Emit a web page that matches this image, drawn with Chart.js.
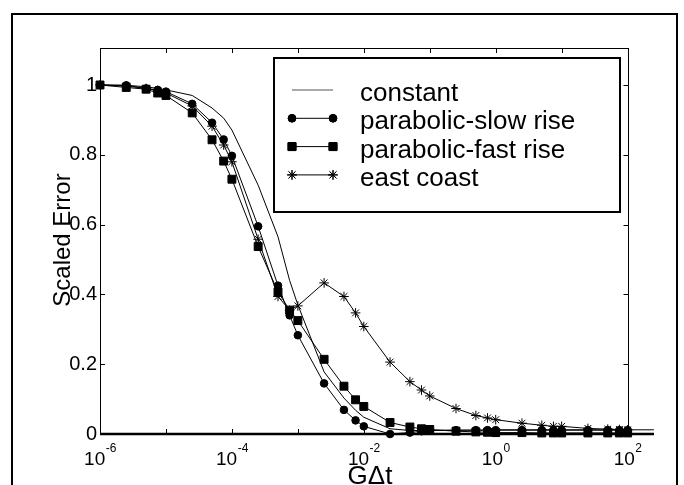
<!DOCTYPE html>
<html><head><meta charset="utf-8">
<script src="https://cdn.jsdelivr.net/npm/chart.js@4/dist/chart.umd.min.js"></script>
<style>html,body{margin:0;padding:0;background:#fff}#wrap{width:684px;height:485px;position:relative;overflow:hidden}</style>
</head><body><div id="wrap"><canvas id="c" width="684" height="485"></canvas></div>
<script>
// ---- data ----
const xValues = [1e-6, 2.5e-6, 5e-6, 7.5e-6, 1e-5, 2.5e-5, 5e-5, 7.5e-5, 1e-4, 2.5e-4, 5e-4, 7.5e-4,
  1e-3, 2.5e-3, 5e-3, 7.5e-3, 1e-2, 2.5e-2, 5e-2, 7.5e-2, 0.1, 0.25, 0.5, 0.75, 1, 2.5, 5, 7.5, 10, 25, 50, 75, 100];
const constantX = [1e-6, 2.5e-6, 5e-6, 7.5e-6, 1e-5, 2.5e-5, 5e-5, 7.5e-5, 1e-4, 2.5e-4, 5e-4, 7.5e-4,
  1e-3, 2.5e-3, 5e-3, 7.5e-3, 1e-2, 2.5e-2, 5e-2, 7.5e-2, 0.1, 0.25, 0.5, 0.75, 1, 2.5, 5, 7.5, 10, 25, 50, 75, 100, 250];
const constantY = [1.0, 0.999, 0.995, 0.99, 0.986, 0.97, 0.934, 0.905, 0.871, 0.713, 0.565, 0.44,
  0.37, 0.178, 0.103, 0.068, 0.048, 0.015, 0.01, 0.01, 0.01, 0.011, 0.011, 0.011, 0.012, 0.012, 0.012, 0.012, 0.012, 0.012, 0.012, 0.012, 0.012, 0.012];
const slowRise = [1.0, 0.999, 0.99, 0.986, 0.981, 0.946, 0.892, 0.844, 0.797, 0.595, 0.425, 0.34,
  0.283, 0.145, 0.069, 0.039, 0.022, 0.0, 0.004, 0.008, 0.01, 0.011, 0.011, 0.011, 0.011, 0.011, 0.011, 0.011, 0.011, 0.011, 0.011, 0.011, 0.011];
const fastRise = [1.0, 0.993, 0.988, 0.977, 0.97, 0.92, 0.843, 0.782, 0.73, 0.537, 0.407, 0.355,
  0.325, 0.214, 0.137, 0.098, 0.079, 0.033, 0.02, 0.015, 0.013, 0.008, 0.006, 0.005, 0.004, 0.004, 0.003, 0.003, 0.003, 0.003, 0.003, 0.003, 0.003];
const eastCoast = [1.0, 0.997, 0.99, 0.984, 0.977, 0.94, 0.882, 0.828, 0.78, 0.558, 0.394, 0.355,
  0.367, 0.433, 0.394, 0.347, 0.308, 0.206, 0.15, 0.126, 0.109, 0.073, 0.053, 0.046, 0.041, 0.031, 0.025, 0.022, 0.022, 0.016, 0.014, 0.013, 0.012];
const seriesNames = ['constant', 'parabolic-slow rise', 'parabolic-fast rise', 'east coast'];
const yTicks = [0, 0.2, 0.4, 0.6, 0.8, 1];
const yTickLabels = ['0', '0.2', '0.4', '0.6', '0.8', '1'];
const xTickExps = [-6, -5, -4, -3, -2, -1, 0, 1, 2];
const xLabelExps = [-6, -4, -2, 0, 2];
const xTitle = 'G\u0394t';
const yTitle = 'Scaled Error';

const FONT = '"Liberation Sans", Arial, Helvetica, sans-serif';
const xBoxMax = 100;

function pts(xs, ys) { return xs.map((x, i) => ({ x: x, y: ys[i] })); }

const styles = [
  { pointStyle: 'circle', pointRadius: 0 },
  { pointStyle: 'circle', pointRadius: 3.8 },
  { pointStyle: 'rect', pointRadius: 5.6 },
  { pointStyle: 'star', pointRadius: 4.8 }
];

const boxPlugin = {
  id: 'boxPlugin',
  beforeDatasetsDraw(chart) {
    const ctx = chart.ctx, xs = chart.scales.x, ys = chart.scales.y;
    const L = chart.chartArea.left, T = chart.chartArea.top, B = chart.chartArea.bottom, R = chart.chartArea.right;
    const xr = Math.round(xs.getPixelForValue(xBoxMax)) + 0.5;
    ctx.save();
    ctx.strokeStyle = '#000';
    ctx.lineWidth = 1;
    ctx.beginPath();
    ctx.moveTo(L + 0.5, B); ctx.lineTo(L + 0.5, T + 0.5); ctx.lineTo(xr, T + 0.5); ctx.lineTo(xr, B);
    ctx.stroke();
    ctx.beginPath();
    xTickExps.forEach(e => {
      const px = Math.round(xs.getPixelForValue(Math.pow(10, e))) + 0.5;
      ctx.moveTo(px, T); ctx.lineTo(px, T + 5);
      ctx.moveTo(px, B); ctx.lineTo(px, B - 5);
    });
    yTicks.forEach(v => {
      const py = Math.round(ys.getPixelForValue(v)) + 0.5;
      ctx.moveTo(L, py); ctx.lineTo(L + 5, py);
      ctx.moveTo(xr, py); ctx.lineTo(xr - 5, py);
    });
    ctx.stroke();
    ctx.lineWidth = 2.5;
    ctx.beginPath();
    ctx.moveTo(L, B); ctx.lineTo(R, B);
    ctx.stroke();
    ctx.restore();
  },
  afterDraw(chart) {
    const ctx = chart.ctx, xs = chart.scales.x;
    ctx.save();
    ctx.fillStyle = '#000';
    xLabelExps.forEach(e => {
      const px = xs.getPixelForValue(Math.pow(10, e));
      ctx.font = '19px ' + FONT;
      const wb = ctx.measureText('10').width;
      ctx.font = '12px ' + FONT;
      const es = String(e);
      const we = ctx.measureText(es).width;
      const x0 = px - (wb + we) / 2;
      ctx.textAlign = 'left'; ctx.textBaseline = 'alphabetic';
      ctx.font = '19px ' + FONT;
      ctx.fillText('10', x0, 465);
      ctx.font = '12px ' + FONT;
      ctx.fillText(es, x0 + wb + 0.5, 452);
    });
    ctx.textAlign = 'center'; ctx.textBaseline = 'alphabetic';
    ctx.font = '26px ' + FONT;
    ctx.fillText(xTitle, 370, 484);
    ctx.font = '24px ' + FONT;
    ctx.save();
    ctx.translate(70, 240);
    ctx.rotate(-Math.PI / 2);
    ctx.fillText(yTitle, 0, 0);
    ctx.restore();
    // legend
    const lx = 274, ly = 58, lw = 346, lh = 154;
    ctx.fillStyle = '#fff';
    ctx.fillRect(lx, ly, lw, lh);
    ctx.strokeStyle = '#000'; ctx.lineWidth = 2;
    ctx.strokeRect(lx, ly, lw, lh);
    ctx.fillStyle = '#000';
    ctx.font = '26px ' + FONT;
    ctx.textAlign = 'left'; ctx.textBaseline = 'alphabetic';
    seriesNames.forEach((name, i) => {
      const base = 101 + 28.3 * i;
      const sy = base - 11;
      ctx.lineWidth = 1; ctx.strokeStyle = i === 0 ? '#555' : '#000';
      ctx.beginPath(); ctx.moveTo(292, sy); ctx.lineTo(333, sy); ctx.stroke();
      ctx.strokeStyle = '#000';
      if (styles[i].pointRadius > 0) {
        [292, 333].forEach(px => {
          Chart.helpers.drawPoint(ctx, { pointStyle: styles[i].pointStyle, radius: styles[i].pointRadius, borderWidth: 1, rotation: 0 }, px, sy);
          ctx.fill(); ctx.stroke();
        });
      }
      ctx.fillText(name, 360, base);
    });
    // outer frame
    ctx.lineWidth = 2; ctx.strokeStyle = '#000';
    ctx.beginPath();
    ctx.moveTo(12, 490); ctx.lineTo(12, 14); ctx.lineTo(677, 14); ctx.lineTo(677, 490);
    ctx.stroke();
    ctx.restore();
  }
};

const allY = [constantY, slowRise, fastRise, eastCoast];
const allX = [constantX, xValues, xValues, xValues];

new Chart(document.getElementById('c'), {
  type: 'scatter',
  data: {
    datasets: seriesNames.map((n, i) => ({
      label: n,
      data: pts(allX[i], allY[i]),
      showLine: true,
      borderColor: '#000',
      backgroundColor: '#000',
      borderWidth: 1,
      pointStyle: styles[i].pointStyle,
      pointRadius: styles[i].pointRadius,
      pointBorderWidth: 1,
      pointBorderColor: '#000',
      pointBackgroundColor: '#000',
      clip: 12
    }))
  },
  options: {
    responsive: false,
    animation: false,
    devicePixelRatio: 1,
    layout: { padding: { top: 48, right: 30, left: 0, bottom: 0 }, autoPadding: false },
    plugins: { legend: { display: false }, tooltip: { enabled: false } },
    scales: {
      x: {
        type: 'logarithmic',
        min: 1e-6,
        max: Math.pow(10, 2.4),
        afterBuildTicks: s => { s.ticks = xTickExps.map(e => ({ value: Math.pow(10, e) })); },
        afterFit: s => { s.height = 51; },
        ticks: { display: false },
        grid: { display: false },
        border: { display: false }
      },
      y: {
        min: 0,
        max: 1.106,
        afterBuildTicks: s => { s.ticks = yTicks.map(v => ({ value: v })); },
        afterFit: s => { s.width = 100; },
        ticks: {
          color: '#000',
          padding: 3,
          font: { size: 20, family: FONT },
          callback: (v) => { const i = yTicks.indexOf(v); return i >= 0 ? yTickLabels[i] : ''; }
        },
        grid: { drawOnChartArea: false, drawTicks: false, display: true, color: 'rgba(0,0,0,0)' },
        border: { display: false }
      }
    }
  },
  plugins: [boxPlugin]
});
</script>
</body></html>
